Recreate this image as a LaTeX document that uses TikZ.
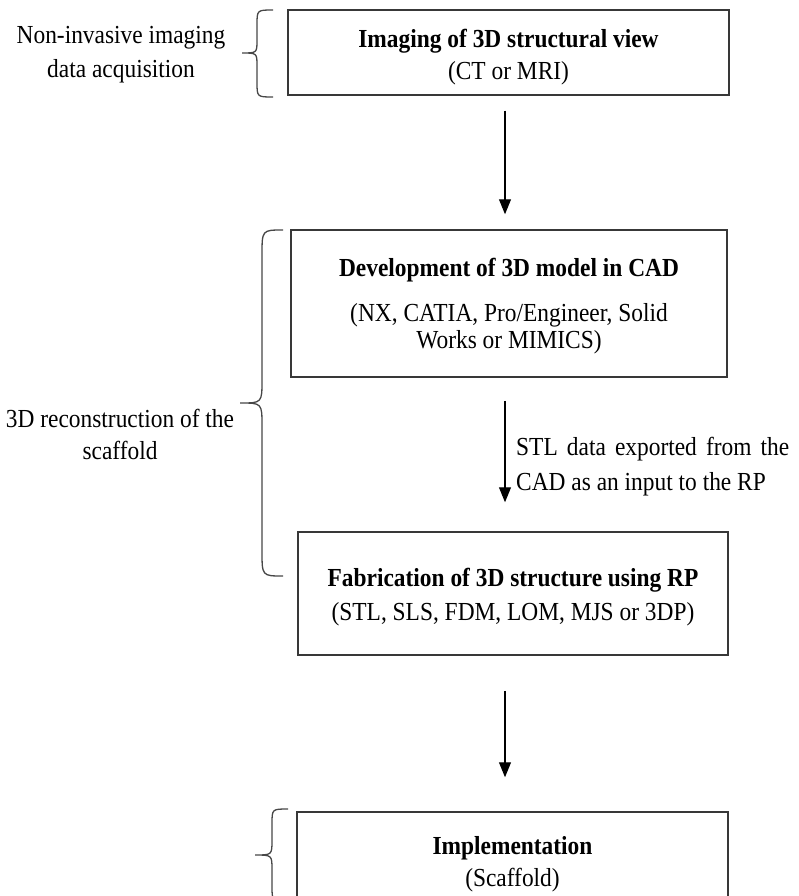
\documentclass[tikz,border=0pt]{standalone}
\usepackage{fontspec}
\setmainfont{Liberation Serif}[FakeStretch=0.9]
\usetikzlibrary{arrows.meta}
\begin{document}
\begin{tikzpicture}[x=1pt,y=-1pt,
  box/.style={draw=black!78, line width=1.5pt, inner sep=0pt},
  txt/.style={align=center, inner sep=0pt, font=\fontsize{26}{27}\selectfont},
  arr/.style={draw=black, line width=1.1pt, -{Triangle[length=15pt,width=12pt]}},
  brc/.style={draw=black!72, line width=1.3pt}]
\useasboundingbox (0,0) rectangle (798,896);
\clip (0,0) rectangle (798,896);
% boxes
\node[box, minimum width=441pt, minimum height=85pt] (b1) at (508.5,52.5) {};
\node[box, minimum width=436pt, minimum height=147pt] (b2) at (509,303.5) {};
\node[box, minimum width=430pt, minimum height=123pt] (b3) at (513,593.5) {};
\node[box, minimum width=431pt, minimum height=100pt] (b4) at (512.5,862) {};
% box texts
\node[txt] (t1) at (508.5,57.5) {\textbf{Imaging of 3D structural view}\\[5pt](CT or MRI)};
\node[txt] (t2) at (509,306) {\textbf{Development of 3D model in CAD}\\[18pt](NX, CATIA, Pro/Engineer, Solid\\Works or MIMICS)};
\node[txt] (t3) at (513,597.5) {\textbf{Fabrication of 3D structure using RP}\\[7pt](STL, SLS, FDM, LOM, MJS or 3DP)};
\node[txt] (t4) at (512.5,864.5) {\textbf{Implementation}\\[5pt](Scaffold)};
% side labels
\node[txt, font=\fontsize{26}{34}\selectfont] (l1) at (121,55) {Non-invasive imaging\\data acquisition};
\node[txt, font=\fontsize{26}{32}\selectfont] (l2) at (120,434) {3D reconstruction of the\\scaffold};
\node[txt, align=left, anchor=west, font=\fontsize{26}{35}\selectfont] (l3) at (516,466.5)
  {\makebox[273pt][s]{STL data exported from the}\\CAD as an input to the RP};
% arrows
\coordinate (ax) at (505,0);
\draw[arr, shorten <=15pt, shorten >=15pt] (b1.south -| ax) -- (b2.north -| ax);
\draw[arr, shorten <=23pt, shorten >=29pt] (b2.south -| ax) -- (b3.north -| ax);
\draw[arr, shorten <=35pt, shorten >=34pt] (b3.south -| ax) -- (b4.north -| ax);
% braces
\draw[brc] (273,10) .. controls (257,10) and (257,10) .. (257,25) -- (257,40)
  .. controls (257,53) and (257,53) .. (242,53)
  .. controls (257,53) and (257,53) .. (257,66) -- (257,82)
  .. controls (257,97) and (257,97) .. (273,97);
\draw[brc] (283,230) .. controls (262,230) and (262,230) .. (262,255) -- (262,380)
  .. controls (262,403) and (262,403) .. (240,403)
  .. controls (262,403) and (262,403) .. (262,426) -- (262,551)
  .. controls (262,576) and (262,576) .. (283,576);
\draw[brc] (288,809) .. controls (272,809) and (272,809) .. (272,824) -- (272,840)
  .. controls (272,855) and (272,855) .. (255,855)
  .. controls (272,855) and (272,855) .. (272,870) -- (272,886)
  .. controls (272,901) and (272,901) .. (288,901);
\end{tikzpicture}
\end{document}
